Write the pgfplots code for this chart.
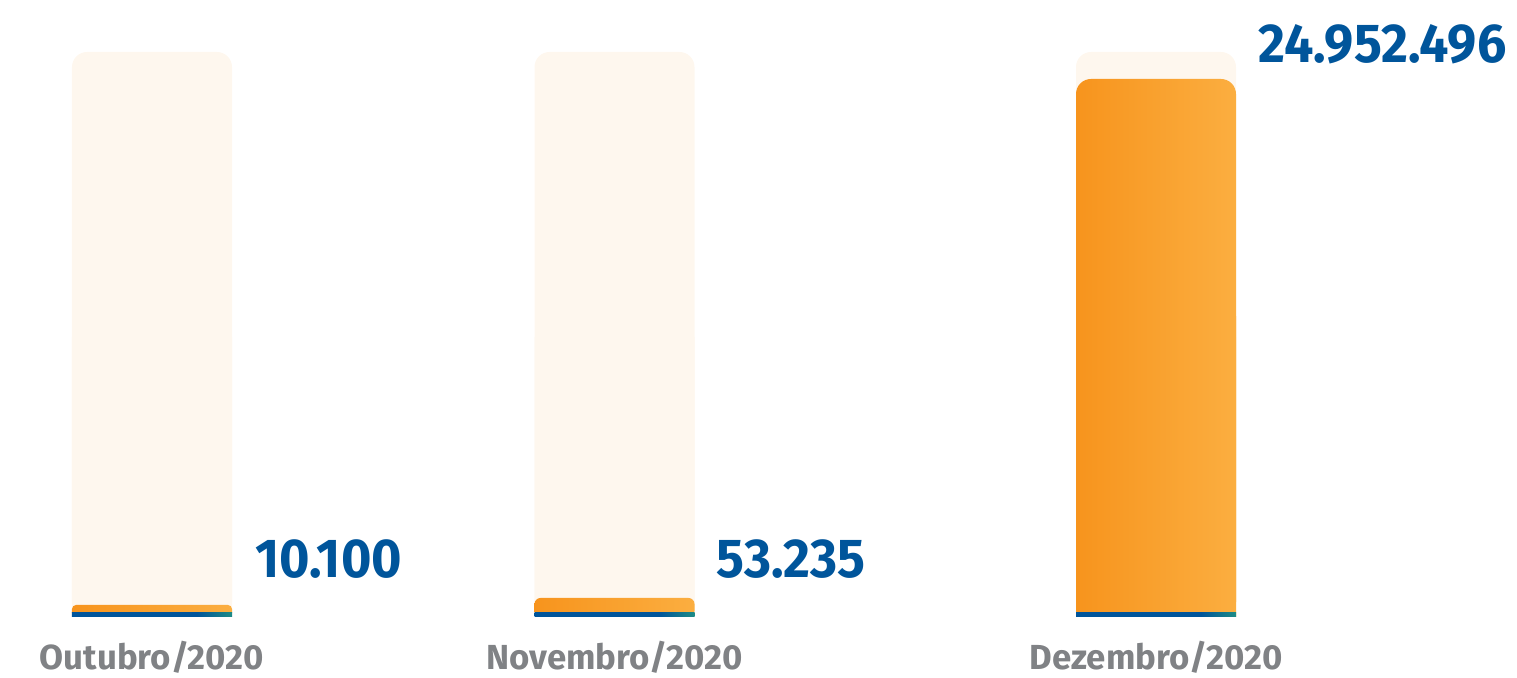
\documentclass[border=0pt]{standalone}
\usepackage{pgfplots}
\usepackage{pgfplotstable}
\pgfplotsset{compat=1.18}
\usepackage{fontspec}
\setmainfont{Fira Sans}
\newfontfamily\valfont[FakeStretch=0.95]{Fira Sans}

\definecolor{cxbg}{HTML}{FEF7EE}
\definecolor{cxor1}{HTML}{F7941D}
\definecolor{cxor2}{HTML}{FBAE40}
\definecolor{cxblue}{HTML}{00559B}
\definecolor{cxteal}{HTML}{1E8C86}
\definecolor{cxgray}{HTML}{808285}

% bottom line: blue, turning teal at the right end
\pgfdeclarehorizontalshading{cxline}{100bp}{color(0bp)=(cxblue); color(25bp)=(cxblue); color(64bp)=(cxblue); color(75bp)=(cxteal); color(100bp)=(cxteal)}

% total = full height of the light column, square = lower part drawn without rounding
\pgfplotstableread{
x     total square
152   565   280
614.5 565   280
1156  565   280
}\bgdata

\pgfplotstableread{
x     y    label
255   39   10.100
716   39   53.235
1258  554  24.952.496
}\labeldata

\begin{document}
\begin{tikzpicture}
\begin{axis}[
    scale only axis,
    width=15.17cm, height=6.78cm,
    xmin=0, xmax=1517, ymin=-61, ymax=617,
    clip=false,
    axis line style={draw=none},
    tick style={draw=none},
    ytick=\empty,
    xtick={152,614.5,1156},
    xticklabels={Outubro/2020, Novembro/2020, Dezembro/2020},
    xticklabel style={anchor=base, yshift=0.08cm, inner sep=0pt,
        text=cxgray, font=\bfseries\fontsize{9.9}{10}\selectfont},
    bar shift=0pt, bar width=1.6cm,
    baseline/.style={ybar, bar shift=0pt, draw=none, shade, shading=cxline},
]
% light background columns
\addplot[ybar, bar shift=0pt, fill=cxbg, draw=none, rounded corners=0.15cm] table[x=x, y=total] {\bgdata};
\addplot[ybar, bar shift=0pt, fill=cxbg, draw=none] table[x=x, y=square] {\bgdata};
% orange columns
\addplot[ybar, bar shift=0pt, draw=none, left color=cxor1, right color=cxor2, rounded corners=0.04cm] coordinates {(152,12)};
\addplot[ybar, bar shift=0pt, draw=none, left color=cxor1, right color=cxor2, rounded corners=0.06cm] coordinates {(614.5,19)};
\addplot[ybar, bar shift=0pt, draw=none, left color=cxor1, right color=cxor2, rounded corners=0.15cm] coordinates {(1156,538)};
\addplot[ybar, bar shift=0pt, draw=none, left color=cxor1, right color=cxor2] coordinates {(1156,300)};
% base lines (one plot each, so every line gets its own shading)
\addplot[baseline] coordinates {(152,4)};
\addplot[baseline] coordinates {(614.5,4)};
\addplot[baseline] coordinates {(1156,4)};
% value labels
\addplot[draw=none, nodes near coords, point meta=explicit symbolic,
    nodes near coords style={anchor=base west, inner sep=0pt, text=cxblue,
        font=\valfont\bfseries\fontsize{15.6}{16}\selectfont}]
    table[x=x, y=y, meta=label] {\labeldata};
\end{axis}
\pgfresetboundingbox
\useasboundingbox (current axis.south west) rectangle (current axis.north east);
\end{tikzpicture}
\end{document}
